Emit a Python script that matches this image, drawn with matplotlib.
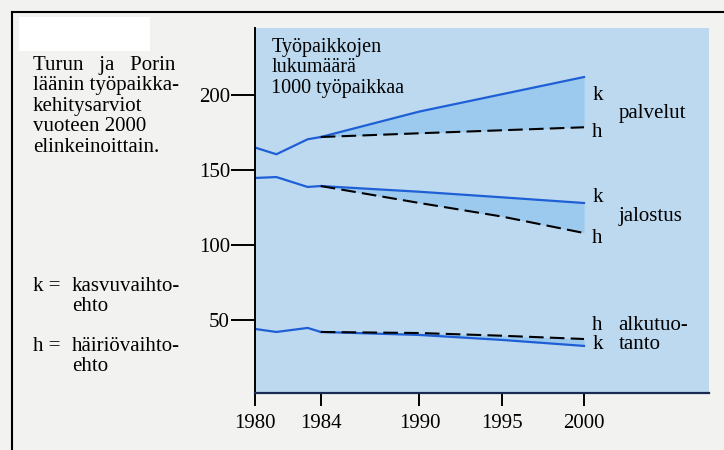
import matplotlib
matplotlib.use('Agg')
import matplotlib.pyplot as plt
from matplotlib.lines import Line2D
from matplotlib.patches import Rectangle

# historical values 1980-1984 (1000 jobs)
hist_years = [1980, 1981.3, 1983.2, 1984]
palvelut_hist = [165, 160.5, 170.5, 172]
jalostus_hist = [144.7, 145.3, 138.7, 139.3]
alku_hist = [44, 42, 44.7, 42]

# forecasts 1984-2000: k = kasvuvaihtoehto, h = häiriövaihtoehto
fc_years = [1984, 1990, 1995, 2000]
palvelut_k = [172, 189, 200.5, 212]
palvelut_h = [172, 174.5, 176.5, 178.5]
jalostus_k = [139.3, 135.5, 131.8, 128]
jalostus_h = [139.3, 128, 119, 108]
alku_k = [42, 40, 36.7, 32.7]
alku_h = [42, 41.3, 39.5, 37.3]

series_names = ['palvelut', 'jalostus', 'alkutuo-\ntanto']
x_ticks = [1980, 1984, 1990, 1995, 2000]
y_ticks = [50, 100, 150, 200]

SERIF = 'Liberation Serif'
BG = '#f2f2f0'
PANEL = '#bcd9ef'
BAND = '#9ccaee'
BLUE = '#1f5fd6'
FS = 15
LS = 1.1

fig = plt.figure(figsize=(7.24, 4.5), dpi=100, facecolor=BG)
ax = fig.add_axes([255 / 724, 1 - 393 / 450, (709 - 255) / 724, (393 - 28) / 450])
ax.set_facecolor(PANEL)
ax.set_xlim(1980, 2007.6)
ax.set_ylim(1.3, 244.7)

groups = [
    (palvelut_hist, palvelut_k, palvelut_h),
    (jalostus_hist, jalostus_k, jalostus_h),
    (alku_hist, alku_k, alku_h),
]
for hist, k, h in groups:
    ax.fill_between(fc_years, k, h, color=BAND, lw=0)
    ax.plot(hist_years, hist, color=BLUE, lw=1.6)
    ax.plot(fc_years, k, color=BLUE, lw=1.6)
    ax.plot(fc_years, h, color='black', lw=1.5, dashes=(7, 3))

# end labels
lab_x = 2000.5
name_x = 2002.1
ax.text(lab_x, 200, 'k', fontsize=FS, family=SERIF, va='center')
ax.text(lab_x, 175, 'h', fontsize=FS, family=SERIF, va='center')
ax.text(name_x, 188, series_names[0], fontsize=FS, family=SERIF, va='center')
ax.text(lab_x, 132, 'k', fontsize=FS, family=SERIF, va='center')
ax.text(lab_x, 104.5, 'h', fontsize=FS, family=SERIF, va='center')
ax.text(name_x, 119, series_names[1], fontsize=FS, family=SERIF, va='center')
ax.text(lab_x, 46.5, 'h', fontsize=FS, family=SERIF, va='center')
ax.text(lab_x, 33.5, 'k', fontsize=FS, family=SERIF, va='center')
ax.text(name_x, 40, series_names[2], fontsize=FS, family=SERIF, va='center',
        linespacing=1.0)

ax.text(1981.0, 238, 'Työpaikkojen\nlukumäärä\n1000 työpaikkaa', fontsize=14.5,
        family=SERIF, va='top', linespacing=LS)

for s in ['top', 'right']:
    ax.spines[s].set_visible(False)
ax.spines['left'].set_color('black')
ax.spines['left'].set_linewidth(1.4)
ax.spines['bottom'].set_color('#1a2a50')
ax.spines['bottom'].set_linewidth(1.6)

ax.set_xticks(x_ticks)
ax.set_yticks(y_ticks)
ax.tick_params(axis='y', length=17, width=1.4, color='black', pad=1)
ax.tick_params(axis='x', length=9, width=1.4, color='black', pad=6)
for lbl in ax.get_yticklabels() + ax.get_xticklabels():
    lbl.set_family(SERIF)
    lbl.set_fontsize(15)

# description on the left
fig.text(33 / 724, 1 - 56 / 450,
         'Turun   ja   Porin\nläänin työpaikka-\nkehitysarviot\nvuoteen 2000\nelinkeinoittain.',
         fontsize=FS, family=SERIF, va='top', linespacing=LS)
fig.text(33 / 724, 1 - 277 / 450, 'k =', fontsize=FS, family=SERIF, va='top')
fig.text(72 / 724, 1 - 277 / 450, 'kasvuvaihto-\nehto',
         fontsize=FS, family=SERIF, va='top', linespacing=LS)
fig.text(33 / 724, 1 - 337 / 450, 'h =', fontsize=FS, family=SERIF, va='top')
fig.text(72 / 724, 1 - 337 / 450, 'häiriövaihto-\nehto',
         fontsize=FS, family=SERIF, va='top', linespacing=LS)

# frame and white label box
fig.add_artist(Line2D([12 / 724, 1], [1 - 12 / 450] * 2, color='black', lw=1.5))
fig.add_artist(Line2D([12 / 724] * 2, [0, 1 - 12 / 450], color='black', lw=1.5))
fig.add_artist(Rectangle((19 / 724, 1 - 51 / 450), 131 / 724, 34 / 450,
                         facecolor='white', edgecolor='none'))

fig.savefig('out.png', dpi=100, facecolor=BG)
